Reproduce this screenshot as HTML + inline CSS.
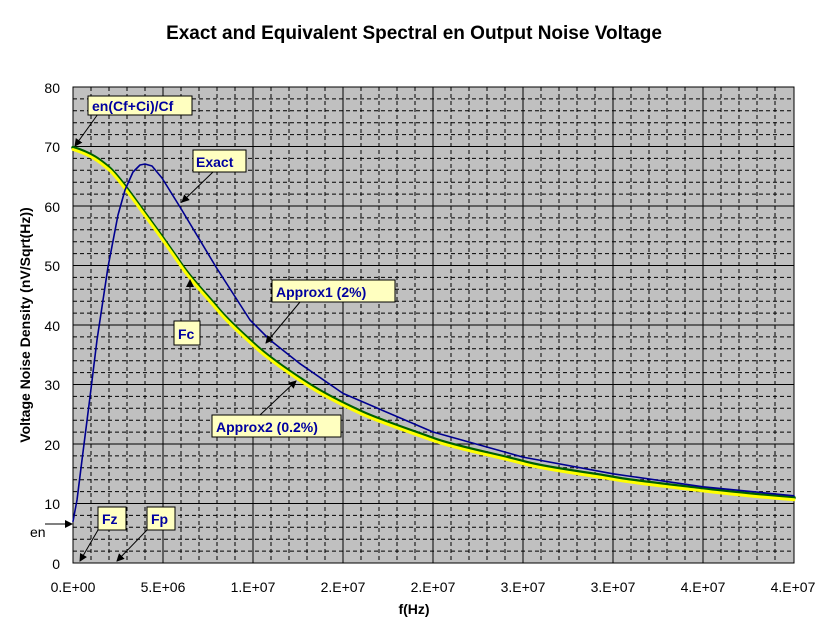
<!DOCTYPE html>
<html><head><meta charset="utf-8"><style>
body{margin:0;background:#fff}
svg{display:block;font-family:"Liberation Sans",Arial,sans-serif}
.lb{fill:#ffffc0;stroke:#000;stroke-width:1}
.lt{fill:#0000a0;font-weight:bold;font-size:14px}
.tk{font-size:14px;fill:#000}
</style></head><body>
<svg width="828" height="632" viewBox="0 0 828 632" xmlns="http://www.w3.org/2000/svg">
<defs><marker id="ah" markerWidth="8" markerHeight="8" refX="7" refY="4" orient="auto" markerUnits="userSpaceOnUse"><path d="M0,0 L8,4 L0,8 z" fill="#000"/></marker></defs>
<rect width="828" height="632" fill="#fff"/>
<text x="414" y="39" text-anchor="middle" font-weight="bold" font-size="19">Exact and Equivalent Spectral en Output Noise Voltage</text>
<rect x="73" y="87" width="721" height="476" fill="#c0c0c0"/>
<g stroke="#000" stroke-width="1" fill="none">
<path stroke-dasharray="4,3" d="
M73,98.9H794M73,110.8H794M73,122.7H794M73,134.6H794
M73,158.4H794M73,170.3H794M73,182.2H794M73,194.1H794
M73,217.9H794M73,229.8H794M73,241.7H794M73,253.6H794
M73,277.4H794M73,289.3H794M73,301.2H794M73,313.1H794
M73,336.9H794M73,348.8H794M73,360.7H794M73,372.6H794
M73,396.4H794M73,408.3H794M73,420.2H794M73,432.1H794
M73,455.9H794M73,467.8H794M73,479.7H794M73,491.6H794
M73,515.4H794M73,527.3H794M73,539.2H794M73,551.1H794
M91,87V563M109,87V563M127,87V563M145,87V563
M181,87V563M199,87V563M217,87V563M235,87V563
M271,87V563M289,87V563M307,87V563M325,87V563
M361,87V563M379,87V563M397,87V563M415,87V563
M451,87V563M469,87V563M487,87V563M505,87V563
M541,87V563M559,87V563M577,87V563M595,87V563
M631,87V563M649,87V563M667,87V563M685,87V563
M721,87V563M739,87V563M757,87V563M775,87V563"/>
<path d="M73,146.5H794M73,206H794M73,265.5H794M73,325H794M73,384.5H794M73,444H794M73,503.5H794
M163,87V563M253,87V563M343,87V563M433,87V563M523,87V563M613,87V563M703,87V563"/>
<rect x="73" y="87" width="721" height="476"/>
</g>
<g fill="none" stroke-linejoin="round" stroke-linecap="round">
<path stroke="#006000" stroke-width="3.5" transform="translate(0,-2)" d="M73,149.5 C91,155 100,162 109,169.7 S135,202 145,215.5 S170,250 181,266.1 S205,295 217,309.5 S240,333 253,345.2 S290,374 307,385 S340,404 361,413.6 S410,432 433,440.5 S500,457 523,463.6 S590,475 613,479.3 S680,488 703,490.9 S770,498 794,499.7"/>
<path stroke="#ffff00" stroke-width="3" d="M73,149.5 C91,155 100,162 109,169.7 S135,202 145,215.5 S170,250 181,266.1 S205,295 217,309.5 S240,333 253,345.2 S290,374 307,385 S340,404 361,413.6 S410,432 433,440.5 S500,457 523,463.6 S590,475 613,479.3 S680,488 703,490.9 S770,498 794,499.7"/>
<path stroke="#000090" stroke-width="1.6" d="M73,521.4 L77,500 L82,460 L90,397 L97,340 L108,267 L118,215 L125,190 L133,172 L140,165 L145,164 L152,166 L162,178 L180,207 L216,267 L250,320 L270,340 L300,363.7 L343,393.4 L433,432 L523,457.1 L613,473.8 L703,486.8 L794,495.8"/>
</g>
<g stroke="#000" stroke-width="1" marker-end="url(#ah)">
<line x1="98" y1="114" x2="75" y2="146"/>
<line x1="213" y1="172" x2="182" y2="202"/>
<line x1="190" y1="320" x2="190" y2="280"/>
<line x1="300" y1="302" x2="266" y2="343"/>
<line x1="260" y1="415" x2="296" y2="381"/>
<line x1="98" y1="530" x2="80" y2="561"/>
<line x1="147" y1="530" x2="117" y2="561"/>
<line x1="45" y1="524" x2="72" y2="524"/>
</g>
<rect class="lb" x="88" y="96" width="104" height="19"/><text class="lt" x="92" y="111">en(Cf+Ci)/Cf</text>
<rect class="lb" x="193" y="150" width="53" height="22"/><text class="lt" x="196" y="167">Exact</text>
<rect class="lb" x="272" y="280" width="123" height="22"/><text class="lt" x="276" y="297">Approx1 (2%)</text>
<rect class="lb" x="174" y="321" width="26" height="24"/><text class="lt" x="178" y="339">Fc</text>
<rect class="lb" x="212" y="415" width="129" height="22"/><text class="lt" x="216" y="432">Approx2 (0.2%)</text>
<rect class="lb" x="98" y="507" width="28" height="23"/><text class="lt" x="102" y="524">Fz</text>
<rect class="lb" x="147" y="507" width="28" height="23"/><text class="lt" x="151" y="524">Fp</text>
<text class="tk" x="30" y="537">en</text>
<g class="tk" text-anchor="end">
<text x="60" y="93">80</text><text x="60" y="152">70</text><text x="60" y="212">60</text><text x="60" y="271">50</text>
<text x="60" y="331">40</text><text x="60" y="390">30</text><text x="60" y="450">20</text><text x="60" y="509">10</text><text x="60" y="569">0</text>
</g>
<g class="tk" text-anchor="middle">
<text x="73" y="592">0.E+00</text><text x="163" y="592">5.E+06</text><text x="253" y="592">1.E+07</text>
<text x="343" y="592">2.E+07</text><text x="433" y="592">2.E+07</text><text x="523" y="592">3.E+07</text>
<text x="613" y="592">3.E+07</text><text x="703" y="592">4.E+07</text><text x="793" y="592">4.E+07</text>
</g>
<text x="414" y="614" text-anchor="middle" font-weight="bold" font-size="14">f(Hz)</text>
<text transform="translate(30,325) rotate(-90)" text-anchor="middle" font-weight="bold" font-size="14">Voltage Noise Density (nV/Sqrt(Hz))</text>
</svg>
</body></html>
